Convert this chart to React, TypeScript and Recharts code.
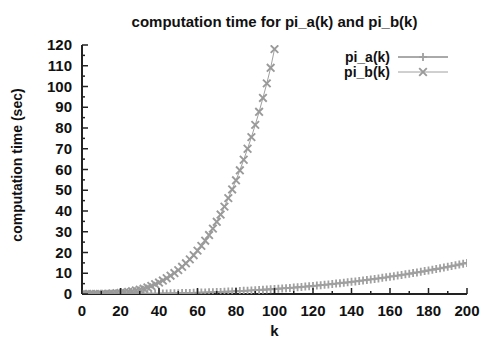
import React from 'react';
import { LineChart, Line, XAxis, YAxis, Legend, Customized } from 'recharts';

// k values and computation times for pi_a(k)
const kA = [0, 2, 4, 6, 8, 10, 12, 14, 16, 18, 20, 22, 24, 26, 28, 30, 32, 34, 36, 38, 40, 42, 44, 46, 48, 50, 52, 54, 56, 58, 60, 62, 64, 66, 68, 70, 72, 74, 76, 78, 80, 82, 84, 86, 88, 90, 92, 94, 96, 98, 100, 102, 104, 106, 108, 110, 112, 114, 116, 118, 120, 122, 124, 126, 128, 130, 132, 134, 136, 138, 140, 142, 144, 146, 148, 150, 152, 154, 156, 158, 160, 162, 164, 166, 168, 170, 172, 174, 176, 178, 180, 182, 184, 186, 188, 190, 192, 194, 196, 198, 200];
const timeA = [0, 0, 0, 0, 0, 0.01, 0.01, 0.01, 0.02, 0.03, 0.035, 0.04, 0.06, 0.07, 0.08, 0.1, 0.12, 0.14, 0.16, 0.19, 0.21, 0.24, 0.28, 0.31, 0.35, 0.39, 0.43, 0.47, 0.52, 0.57, 0.62, 0.68, 0.74, 0.8, 0.87, 0.94, 1.01, 1.09, 1.17, 1.25, 1.33, 1.42, 1.52, 1.62, 1.72, 1.82, 1.93, 2.04, 2.16, 2.28, 2.41, 2.54, 2.67, 2.8, 2.95, 3.1, 3.25, 3.4, 3.56, 3.73, 3.9, 4.07, 4.25, 4.43, 4.62, 4.81, 5.01, 5.21, 5.42, 5.63, 5.85, 6.07, 6.3, 6.54, 6.77, 7.02, 7.27, 7.52, 7.78, 8.05, 8.33, 8.6, 8.88, 9.17, 9.47, 9.77, 10.07, 10.38, 10.7, 11.03, 11.36, 11.69, 12.04, 12.39, 12.74, 13.1, 13.47, 13.84, 14.22, 14.61, 15.0];

// k values and computation times for pi_b(k)
const kB = [0, 2, 4, 6, 8, 10, 12, 14, 16, 18, 20, 22, 24, 26, 28, 30, 32, 34, 36, 38, 40, 42, 44, 46, 48, 50, 52, 54, 56, 58, 60, 62, 64, 66, 68, 70, 72, 74, 76, 78, 80, 82, 84, 86, 88, 90, 92, 94, 96, 98, 100];
const timeB = [0, 0, 0, 0, 0.01, 0.05, 0.09, 0.15, 0.25, 0.4, 0.55, 0.75, 1.0, 1.3, 1.7, 2.1, 2.6, 3.2, 3.9, 4.7, 5.5, 6.5, 7.6, 8.8, 10.1, 11.5, 13.1, 14.8, 16.7, 18.7, 20.9, 23.2, 25.7, 28.4, 31.5, 34.8, 38.3, 42.1, 46.2, 50.4, 54.8, 59.6, 64.7, 70.0, 75.6, 81.5, 87.8, 94.5, 101.5, 109.0, 118.0];

const xTicks = [0, 10, 20, 30, 40, 50, 60, 70, 80, 90, 100, 110, 120, 130, 140, 150, 160, 170, 180, 190, 200];
const yTicks = [0, 5, 10, 15, 20, 25, 30, 35, 40, 45, 50, 55, 60, 65, 70, 75, 80, 85, 90, 95, 100, 105, 110, 115, 120];

const TITLE = 'computation time for pi_a(k) and pi_b(k)';
const Y_LABEL = 'computation time (sec)';
const X_LABEL = 'k';
const NAME_A = 'pi_a(k)';
const NAME_B = 'pi_b(k)';

const dataA = kA.map((k, i) => ({ k, a: timeA[i] }));
const dataB = kB.map((k, i) => ({ k, b: timeB[i] }));

const FONT = '"Liberation Sans", Arial, sans-serif';
const AXIS = '#222';
const COL_A_LINE = '#555';
const COL_A_MARK = '#a0a0a0';
const COL_B_LINE = '#a0a0a0';
const COL_B_MARK = '#9a9a9a';

const plusPath = (cx: number, cy: number, s: number) =>
  `M${cx - s},${cy}H${cx + s}M${cx},${cy - s}V${cy + s}`;
const crossPath = (cx: number, cy: number, s: number) =>
  `M${cx - s},${cy - s}L${cx + s},${cy + s}M${cx - s},${cy + s}L${cx + s},${cy - s}`;

const PlusDot = (p: any) => {
  const { cx, cy, index } = p;
  if (cx == null || cy == null || isNaN(cx) || isNaN(cy)) return <g key={`pa${index}`} />;
  return <path key={`pa${index}`} d={plusPath(cx, cy, 4)} stroke={COL_A_MARK} strokeWidth={1.8} fill="none" />;
};
const CrossDot = (p: any) => {
  const { cx, cy, index } = p;
  if (cx == null || cy == null || isNaN(cx) || isNaN(cy)) return <g key={`pb${index}`} />;
  return <path key={`pb${index}`} d={crossPath(cx, cy, 3.8)} stroke={COL_B_MARK} strokeWidth={1.9} fill="none" />;
};

const BottomTick = (p: any) => {
  const v = p.payload.value;
  const major = v % 20 === 0;
  return (
    <g>
      <line x1={p.x} y1={p.y} x2={p.x} y2={p.y - (major ? 6 : 3)} stroke={AXIS} strokeWidth={1.5} />
      {major && (
        <text x={p.x} y={p.y + 22} textAnchor="middle" fontFamily={FONT} fontWeight="bold" fontSize={15} fill="#111">
          {v}
        </text>
      )}
    </g>
  );
};
const TopTick = (p: any) => {
  const v = p.payload.value;
  const major = v % 20 === 0;
  return <line x1={p.x} y1={p.y} x2={p.x} y2={p.y + (major ? 6 : 3)} stroke={AXIS} strokeWidth={1.5} />;
};
const LeftTick = (p: any) => {
  const v = p.payload.value;
  const major = v % 10 === 0;
  return (
    <g>
      <line x1={p.x} y1={p.y} x2={p.x + (major ? 6 : 3)} y2={p.y} stroke={AXIS} strokeWidth={1.5} />
      {major && (
        <text x={p.x - 10} y={p.y + 5} textAnchor="end" fontFamily={FONT} fontWeight="bold" fontSize={15} fill="#111">
          {v}
        </text>
      )}
    </g>
  );
};
const RightTick = (p: any) => {
  const v = p.payload.value;
  const major = v % 10 === 0;
  return <line x1={p.x} y1={p.y} x2={p.x - (major ? 6 : 3)} y2={p.y} stroke={AXIS} strokeWidth={1.5} />;
};

const LegendBox = () => (
  <svg width={170} height={40} style={{ display: 'block' }}>
    <text x={90} y={16.5} textAnchor="end" fontFamily={FONT} fontWeight="bold" fontSize={14} fill="#111">{NAME_A}</text>
    <line x1={98} y1={12} x2={148} y2={12} stroke={COL_A_LINE} strokeWidth={1} />
    <path d={plusPath(123, 12, 4)} stroke={COL_A_MARK} strokeWidth={1.8} fill="none" />
    <text x={90} y={31.5} textAnchor="end" fontFamily={FONT} fontWeight="bold" fontSize={14} fill="#111">{NAME_B}</text>
    <line x1={98} y1={27} x2={148} y2={27} stroke={COL_B_LINE} strokeWidth={1} />
    <path d={crossPath(123, 27, 3.8)} stroke={COL_B_MARK} strokeWidth={1.9} fill="none" />
  </svg>
);

const Texts = () => (
  <g>
    <text x={274.5} y={27} textAnchor="middle" fontFamily={FONT} fontWeight="bold" fontSize={15} fill="#111">{TITLE}</text>
    <text x={0} y={0} transform="translate(22,165) rotate(-90)" textAnchor="middle" fontFamily={FONT} fontWeight="bold" fontSize={14} fill="#111">{Y_LABEL}</text>
    <text x={274.5} y={336} textAnchor="middle" fontFamily={FONT} fontWeight="bold" fontSize={15} fill="#111">{X_LABEL}</text>
  </g>
);

export default function App() {
  return (
    <div style={{ position: 'absolute', left: 0, top: 0, width: 485, height: 341, background: '#fff' }}>
      <LineChart width={485} height={341} margin={{ top: 45, right: 18, bottom: 0, left: 0 }}>
        <XAxis
          dataKey="k"
          type="number"
          domain={[0, 200]}
          ticks={xTicks}
          interval={0}
          height={47}
          tickSize={0}
          tickMargin={0}
          tick={BottomTick}
          axisLine={{ stroke: AXIS, strokeWidth: 2 }}
          allowDataOverflow
        />
        <XAxis
          xAxisId="top"
          orientation="top"
          type="number"
          domain={[0, 200]}
          ticks={xTicks}
          interval={0}
          height={0}
          tickSize={0}
          tickMargin={0}
          tick={TopTick}
          axisLine={{ stroke: AXIS, strokeWidth: 2 }}
          allowDataOverflow
        />
        <YAxis
          type="number"
          domain={[0, 120]}
          ticks={yTicks}
          interval={0}
          width={82}
          tickSize={0}
          tickMargin={0}
          tick={LeftTick}
          axisLine={{ stroke: AXIS, strokeWidth: 2 }}
          allowDataOverflow
        />
        <YAxis
          yAxisId="right"
          orientation="right"
          type="number"
          domain={[0, 120]}
          ticks={yTicks}
          interval={0}
          width={0}
          tickSize={0}
          tickMargin={0}
          tick={RightTick}
          axisLine={{ stroke: AXIS, strokeWidth: 2 }}
          allowDataOverflow
        />
        <Line
          data={dataA}
          dataKey="a"
          name={NAME_A}
          type="linear"
          stroke={COL_A_LINE}
          strokeWidth={1}
          dot={PlusDot}
          activeDot={false}
          isAnimationActive={false}
        />
        <Line
          data={dataB}
          dataKey="b"
          name={NAME_B}
          type="linear"
          stroke={COL_B_LINE}
          strokeWidth={1}
          dot={CrossDot}
          activeDot={false}
          isAnimationActive={false}
        />
        <Legend
          layout="horizontal"
          verticalAlign="middle"
          align="center"
          content={LegendBox}
          wrapperStyle={{ position: 'absolute', left: 300, top: 45, width: 170, height: 40 }}
        />
        <Customized component={Texts} />
      </LineChart>
    </div>
  );
}
